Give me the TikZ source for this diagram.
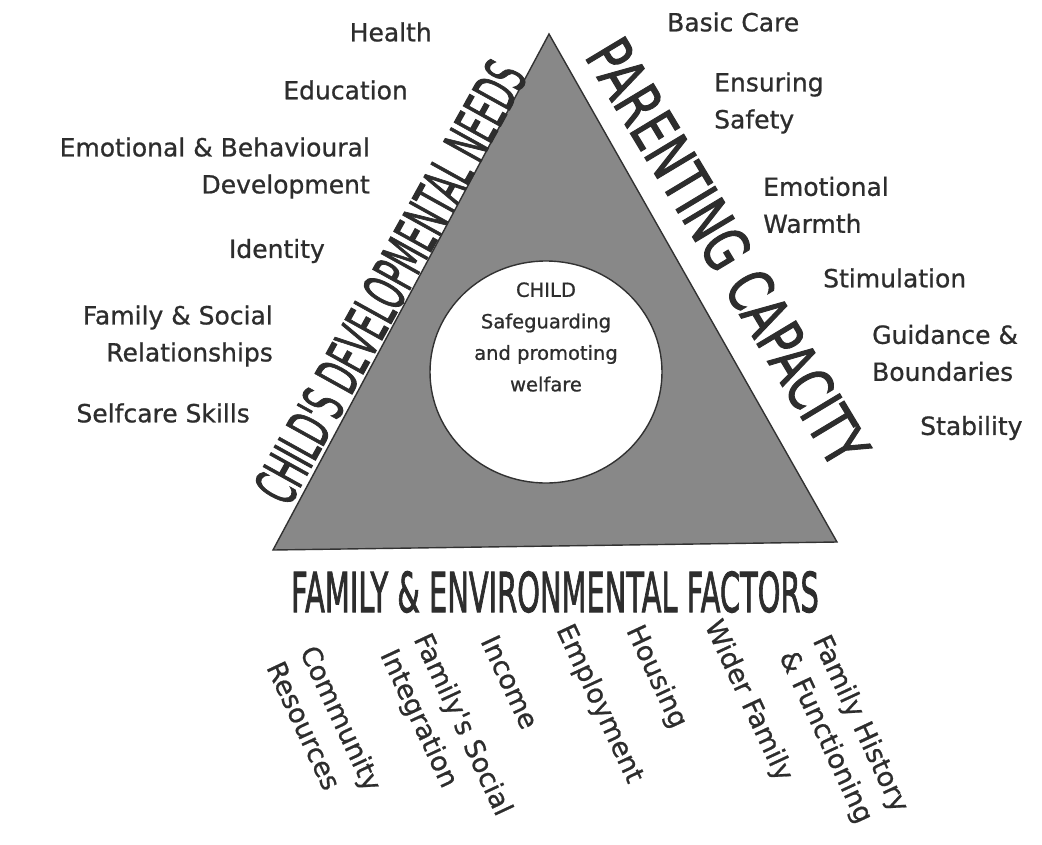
\documentclass[tikz,border=0pt]{standalone}
\usepackage{fontspec}
\setmainfont{DejaVu Sans}
\newfontfamily\inkfont[FakeBold=0.8]{DejaVu Sans}
\newfontfamily\headfont[FakeBold=2]{DejaVu Sans}
\usetikzlibrary{shapes.geometric}

\definecolor{trigray}{RGB}{136,136,136}
\definecolor{edgegray}{RGB}{50,50,50}
\definecolor{inkgray}{RGB}{45,45,45}

\begin{document}
\begin{tikzpicture}[x=1pt, y=-1pt,
        need/.style={font=\inkfont\fontsize{25}{37}\selectfont, text=inkgray, inner sep=0pt, align=right, anchor=east},
        care/.style={font=\inkfont\fontsize{25}{37}\selectfont, text=inkgray, inner sep=0pt, align=left, anchor=west},
        factor/.style={font=\inkfont\fontsize{27}{37}\selectfont, text=inkgray, inner sep=0pt, align=left, rotate=-65},
        heading/.style={font=\headfont\fontsize{58}{60}\selectfont, text=inkgray, inner sep=0pt}]
        \useasboundingbox (0,0) rectangle (1042,844);

        \coordinate (top) at (549,34);
        \coordinate (left) at (273,550);
        \coordinate (right) at (837,542);
        \draw[edgegray, line width=1.4pt, fill=trigray, line join=miter] (top) -- (left) -- (right) -- cycle;

        \draw[edgegray, line width=1.4pt, fill=white] (546,372) ellipse [x radius=116, y radius=111];
        \node[font=\inkfont\fontsize{19.5}{31.5}\selectfont, text=inkgray, align=center] (child) at (546,337)
              {CHILD\\Safeguarding\\and promoting\\welfare};

        % the three sides
        \node[heading, rotate=61, xscale=0.51] (needs) at (390,282) {CHILD'S DEVELOPMENTAL NEEDS};
        \node[heading, font=\headfont\fontsize{62}{64}\selectfont, rotate=-59, xscale=0.72] (parenting) at (728,252) {PARENTING CAPACITY};
        \node[heading, font=\headfont\fontsize{55}{60}\selectfont, xscale=0.525] (family) at (555,592) {FAMILY \& ENVIRONMENTAL FACTORS};

        % child's developmental needs
        \node[need] (health) at (432,32) {Health};
        \node[need] (education) at (408,90) {Education};
        \node[need] (emotional) at (370,168) {Emotional \& Behavioural\\Development};
        \node[need] (identity) at (325,251) {Identity};
        \node[need] (relations) at (273,336) {Family \& Social\\Relationships};
        \node[need] (selfcare) at (250,413) {Selfcare Skills};

        % parenting capacity
        \node[care] (basic) at (667,22) {Basic Care};
        \node[care] (safety) at (714,103) {Ensuring\\Safety};
        \node[care] (warmth) at (763,205) {Emotional\\Warmth};
        \node[care] (stimulation) at (823,278) {Stimulation};
        \node[care] (guidance) at (872,353) {Guidance \&\\Boundaries};
        \node[care] (stability) at (920,428) {Stability};

        % family and environmental factors
        \node[factor] (community) at (325,726) {Community\\Resources};
        \node[factor] (integration) at (445,733) {Family's Social\\Integration};
        \node[factor] (income) at (510,682) {Income};
        \node[factor] (employment) at (599,704) {Employment};
        \node[factor] (housing) at (656,677) {Housing};
        \node[factor] (wider) at (748,701) {Wider Family};
        \node[factor] (history) at (843,732) {Family History\\\& Functioning};
    \end{tikzpicture}
\end{document}
